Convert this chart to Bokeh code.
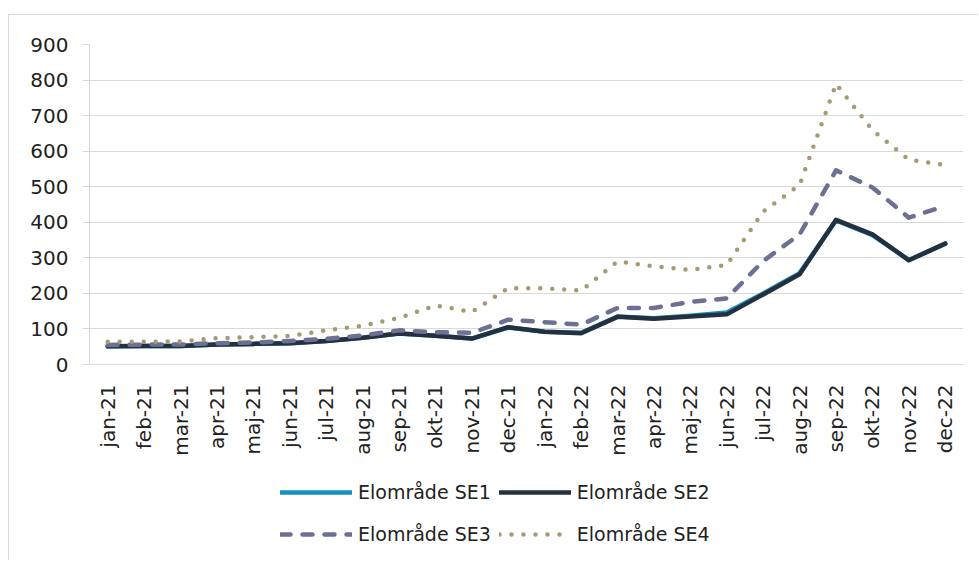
from bokeh.plotting import figure
from bokeh.layouts import column
from bokeh.models import FactorRange, Range1d, FixedTicker, Legend, LegendItem
from bokeh.embed import file_html
from bokeh.resources import INLINE
import math

months = ["jan-21", "feb-21", "mar-21", "apr-21", "maj-21", "jun-21", "jul-21", "aug-21",
          "sep-21", "okt-21", "nov-21", "dec-21", "jan-22", "feb-22", "mar-22", "apr-22",
          "maj-22", "jun-22", "jul-22", "aug-22", "sep-22", "okt-22", "nov-22", "dec-22"]

se1 = [51, 52, 52, 56, 58, 60, 66, 75, 87, 81, 73, 104, 92, 89, 135, 130, 137, 146, 200, 257, 405, 364, 294, 340]
se2 = [51, 52, 52, 56, 58, 60, 66, 75, 87, 81, 73, 105, 92, 88, 134, 129, 135, 141, 197, 254, 407, 366, 293, 340]
se3 = [55, 56, 56, 60, 62, 66, 72, 82, 96, 91, 89, 126, 119, 112, 159, 159, 176, 186, 291, 366, 546, 498, 413, 446]
se4 = [64, 64, 65, 74, 77, 80, 96, 109, 131, 166, 148, 215, 214, 208, 290, 276, 266, 280, 430, 505, 789, 659, 576, 561]

y_ticks = [0, 100, 200, 300, 400, 500, 600, 700, 800, 900]
labels = ["Elområde SE1", "Elområde SE2", "Elområde SE3", "Elområde SE4"]
colors = ["#1593BE", "#24303F", "#6E7093", "#A59A72"]
dashes = ["solid", "solid", "10 12", "0 12"]

FONT = "DejaVu Sans"
TXT = "#222222"
GRID = "#d9d9d9"
BORDER = "1px solid #d9d9d9"

p = figure(frame_width=873, frame_height=319, output_backend="svg", toolbar_location=None,
           x_range=FactorRange(*months, range_padding=0), y_range=Range1d(0, 900),
           min_border_left=80, min_border_top=29, min_border_right=16, min_border_bottom=97)
p.styles = {"border-top": BORDER, "border-left": BORDER, "margin-top": "14px", "margin-left": "8px"}
p.outline_line_color = None
p.background_fill_color = "white"
p.border_fill_color = "white"

p.xgrid.grid_line_color = None
p.ygrid.grid_line_color = GRID
p.ygrid.grid_line_width = 1.2
p.yaxis.ticker = FixedTicker(ticks=y_ticks)

p.yaxis.axis_line_color = GRID
p.yaxis.major_tick_line_color = GRID
p.yaxis.major_tick_out = 7
p.yaxis.major_tick_in = 0
p.yaxis.minor_tick_line_color = None
p.yaxis.major_label_standoff = 14
p.yaxis.major_label_text_font = FONT
p.yaxis.major_label_text_font_size = "20px"
p.yaxis.major_label_text_color = TXT

p.xaxis.axis_line_color = GRID
p.xaxis.major_tick_line_color = None
p.xaxis.minor_tick_line_color = None
p.xaxis.major_label_orientation = math.pi / 2
p.xaxis.major_label_standoff = 14
p.xaxis.major_label_text_font = FONT
p.xaxis.major_label_text_font_size = "20px"
p.xaxis.major_label_text_color = TXT

W = 4.5
series = [se1, se2, se3, se4]
for vals, c, d in zip(series, colors, dashes):
    p.line(months, vals, line_color=c, line_width=W, line_join="round", line_cap="round", line_dash=d)

# legend strip below the chart (its lines fall outside its own y range, only the legend shows)
p2 = figure(width=969, height=100, output_backend="svg", toolbar_location=None,
            x_range=p.x_range, y_range=Range1d(-2000, -1000),
            min_border_left=80, min_border_right=16, min_border_top=0, min_border_bottom=0)
p2.styles = {"border-left": BORDER, "margin-left": "8px"}
p2.axis.visible = False
p2.grid.grid_line_color = None
p2.outline_line_color = None
p2.background_fill_color = "white"
p2.border_fill_color = "white"

rs = []
for vals, c, d in zip(series, colors, dashes):
    rs.append(p2.line(months, vals, line_color=c, line_width=W, line_join="round",
                      line_cap="round", line_dash=d))

def make_legend(items, loc):
    return Legend(items=items, location=loc, orientation="horizontal",
                  glyph_width=72, glyph_height=20, label_height=20, label_standoff=6,
                  spacing=8, padding=0, margin=0,
                  border_line_color=None, background_fill_alpha=0,
                  label_text_font=FONT, label_text_font_size="19px", label_text_color=TXT)

leg1 = make_legend([LegendItem(label=labels[0], renderers=[rs[0]]),
                    LegendItem(label=labels[1], renderers=[rs[1]])], (191, 57))
leg2 = make_legend([LegendItem(label=labels[2], renderers=[rs[2]]),
                    LegendItem(label=labels[3], renderers=[rs[3]])], (191, 15))
p2.add_layout(leg1, "center")
p2.add_layout(leg2, "center")

layout = column(p, p2, spacing=0)
open("out.html", "w").write(file_html(layout, INLINE))
